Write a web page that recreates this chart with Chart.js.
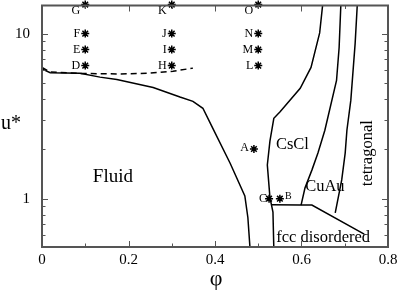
<!DOCTYPE html>
<html><head><meta charset="utf-8">
<script src="https://cdn.jsdelivr.net/npm/chart.js@4/dist/chart.umd.min.js"></script>
<style>html,body{margin:0;padding:0;background:#fff}</style>
</head><body>
<canvas id="c" width="399" height="292"></canvas>
<script>
// ---------- data ----------
const fluidBoundaryPhi = [0, 0.019, 0.088, 0.134, 0.173, 0.257, 0.319, 0.349, 0.372, 0.395, 0.435, 0.469, 0.476, 0.481];
const fluidBoundaryU   = [6.1, 5.8, 5.75, 5.45, 5.28, 4.72, 4.13, 3.89, 3.53, 2.67, 1.64, 1.04, 0.77, 0.5];

const dashedPhi = [0, 0.019, 0.088, 0.18, 0.25, 0.303, 0.349];
const dashedU   = [6.25, 5.85, 5.74, 5.7, 5.76, 5.92, 6.18];

const csclLeftPhi = [0.649, 0.642, 0.622, 0.597, 0.550, 0.536, 0.527, 0.521, 0.527, 0.534, 0.536];
const csclLeftU   = [15, 10.1, 6.24, 4.66, 3.35, 3.07, 2.23, 1.60, 1.02, 0.83, 0.5];

const csclCuauPhi = [0.691, 0.687, 0.681, 0.654, 0.638, 0.624, 0.608, 0.599];
const csclCuauU   = [15, 8.23, 5.2, 2.6, 1.89, 1.49, 1.16, 0.915];

const cuauTetraPhi = [0.729, 0.724, 0.714, 0.705, 0.701, 0.693, 0.678];
const cuauTetraU   = [15, 8.7, 3.94, 2.6, 1.89, 1.30, 0.82];

const fccBoundaryPhi = [0.531, 0.597, 0.624, 0.745];
const fccBoundaryU   = [0.92, 0.915, 0.915, 0.61];

const statePointLetters = ['G','F','E','D','K','J','I','H','O','N','M','L','A','B','C'];
const statePointPhi     = [0.1,0.1,0.1,0.1, 0.3,0.3,0.3,0.3, 0.5,0.5,0.5,0.5, 0.49,0.55,0.525];
const statePointU       = [15,10,8,6.4, 15,10,8,6.4, 15,10,8,6.4, 2,1,1];

const phaseNames = ['Fluid','CsCl','CuAu','fcc disordered','tetragonal'];
const phaseNamePhi = [0.164, 0.579, 0.654, 0.650, 0.749];
const phaseNameU   = [1.26, 2.01, 1.117, 0.55, 1.887];

const xTickValues = [0,0.1,0.2,0.3,0.4,0.5,0.6,0.7,0.8];
const xTickLabels = {0:'0',0.2:'0.2',0.4:'0.4',0.6:'0.6',0.8:'0.8'};
const yTickValues = [0.6,0.7,0.8,0.9,1,2,3,4,5,6,7,8,9,10];
const yTickLabels = {1:'1',10:'10'};

const xTitle = 'φ';
const yTitle = 'u*';

// ---------- styles ----------
const SERIF = "'Liberation Serif', 'Times New Roman', serif";
const frameColor = '#555';
const lineColor = '#000';

function pts(xs, ys){ return xs.map((v,i)=>({x:v, y:ys[i]})); }
function lineSet(xs, ys, dash){
  return {type:'line', data:pts(xs,ys), showLine:true, borderColor:lineColor, borderWidth:1.5,
    pointRadius:0, tension:0, fill:false, borderDash: dash || []};
}

const isMajorX = v => xTickLabels[v] !== undefined;
const isMajorY = v => yTickLabels[v] !== undefined;

const decorations = {
  id:'decorations',
  afterDatasetsDraw(chart){
    const {ctx, chartArea:a, scales:{x,y}} = chart;
    ctx.save();
    ctx.fillStyle = '#000';
    ctx.textBaseline = 'middle';
    statePointLetters.forEach((L,i)=>{
      const px = x.getPixelForValue(statePointPhi[i]);
      const py = y.getPixelForValue(statePointU[i]);
      let dx = -5, dy = 0, align = 'right', size = 12;
      if (statePointU[i] >= 15) dy = 6;
      if (L === 'A') dy = -1;
      if (L === 'C') dx = -2;
      if (L === 'B') { dx = 5; dy = -2; align = 'left'; size = 10; }
      ctx.font = size + 'px ' + SERIF;
      ctx.textAlign = align;
      ctx.fillText(L, px + dx, py + dy);
    });
    ctx.textBaseline = 'alphabetic';
    ctx.textAlign = 'center';
    phaseNames.forEach((n,i)=>{
      const px = x.getPixelForValue(phaseNamePhi[i]);
      const py = y.getPixelForValue(phaseNameU[i]);
      ctx.font = (n === 'Fluid' ? 19 : 16.5) + 'px ' + SERIF;
      if (n === 'tetragonal') {
        ctx.save();
        ctx.translate(px + 6, py);
        ctx.rotate(-Math.PI/2);
        ctx.fillText(n, 0, 0);
        ctx.restore();
      } else {
        ctx.fillText(n, px, py);
      }
    });
    ctx.restore();
  },
  afterDraw(chart){
    const {ctx, chartArea:a, scales:{x,y}} = chart;
    ctx.save();
    ctx.strokeStyle = frameColor;
    ctx.lineWidth = 1;
    ctx.beginPath();
    xTickValues.forEach(v=>{
      const px = Math.round(x.getPixelForValue(v)) + 0.5;
      const L = isMajorX(v) ? 6 : 3.5;
      ctx.moveTo(px, a.bottom); ctx.lineTo(px, a.bottom - L);
      ctx.moveTo(px, a.top); ctx.lineTo(px, a.top + L);
    });
    yTickValues.forEach(v=>{
      const py = Math.round(y.getPixelForValue(v)) + 0.5;
      const L = isMajorY(v) ? 6 : 3.5;
      ctx.moveTo(a.left, py); ctx.lineTo(a.left + L, py);
      ctx.moveTo(a.right, py); ctx.lineTo(a.right - L, py);
    });
    ctx.stroke();
    ctx.lineWidth = 2;
    ctx.strokeRect(a.left, a.top, a.right - a.left, a.bottom - a.top);
    ctx.fillStyle = '#000';
    ctx.font = '20px ' + SERIF;
    ctx.textAlign = 'left';
    ctx.textBaseline = 'alphabetic';
    ctx.fillText(yTitle, 1, 129);
    ctx.font = '22px ' + SERIF;
    ctx.textAlign = 'center';
    ctx.fillText(xTitle, (a.left + a.right)/2 + 1, 285);
    ctx.restore();
  }
};

Chart.defaults.font.family = SERIF;
Chart.defaults.color = '#000';

new Chart(document.getElementById('c'), {
  type:'scatter',
  data:{datasets:[
    lineSet(fluidBoundaryPhi, fluidBoundaryU),
    lineSet(dashedPhi, dashedU, [6,4]),
    lineSet(csclLeftPhi, csclLeftU),
    lineSet(csclCuauPhi, csclCuauU),
    lineSet(cuauTetraPhi, cuauTetraU),
    lineSet(fccBoundaryPhi, fccBoundaryU),
    {type:'scatter', data:pts(statePointPhi, statePointU), pointStyle:'star', pointRadius:4,
      borderColor:'#000', backgroundColor:'#000', borderWidth:1.5, clip:false}
  ]},
  options:{
    responsive:false, animation:false,
    layout:{padding:{left:0, right:11, top:5, bottom:0}},
    plugins:{legend:{display:false}, tooltip:{enabled:false}},
    scales:{
      x:{type:'linear', min:0, max:0.8,
        grid:{display:false}, border:{display:false},
        afterBuildTicks: s => { s.ticks = xTickValues.map(v=>({value:v})); },
        afterFit: s => { s.height = 45; s.paddingLeft = 0; s.paddingRight = 0; },
        ticks:{autoSkip:false, maxRotation:0, padding:-4, font:{size:15, family:SERIF}, color:'#000',
          callback: v => xTickLabels[Math.round(v*10)/10] || ''}
      },
      y:{type:'logarithmic', min:0.51, max:14.8,
        grid:{display:false}, border:{display:false},
        afterBuildTicks: s => { s.ticks = yTickValues.map(v=>({value:v})); },
        afterFit: s => { s.width = 42; s.paddingTop = 0; s.paddingBottom = 0; },
        ticks:{autoSkip:false, padding:4, font:{size:15, family:SERIF}, color:'#000',
          callback: v => yTickLabels[v] || ''}
      }
    }
  },
  plugins:[decorations]
});
</script>
</body></html>
